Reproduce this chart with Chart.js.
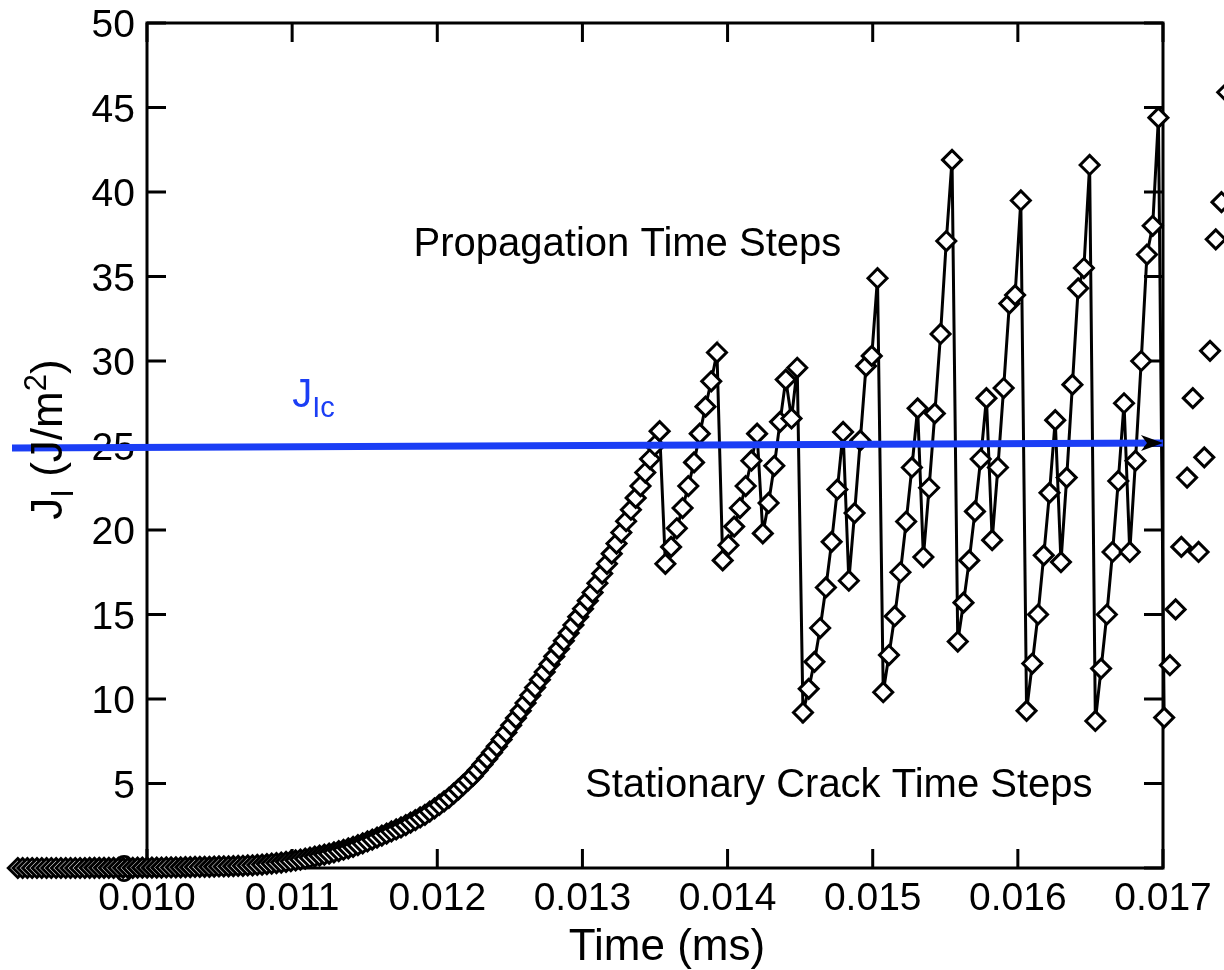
<!DOCTYPE html>
<html>
<head>
<meta charset="utf-8">
<script src="https://cdn.jsdelivr.net/npm/chart.js@4.4.1/dist/chart.umd.min.js"></script>
<style>
  html, body { margin: 0; padding: 0; background: #fff; }
  #wrap { width: 1224px; height: 970px; }
</style>
</head>
<body>
<div id="wrap"><canvas id="jChart" width="1224" height="970"></canvas></div>
<script>
// tick labels
const xTicks = [0.010, 0.011, 0.012, 0.013, 0.014, 0.015, 0.016, 0.017];
const yTicks = [0, 5, 10, 15, 20, 25, 30, 35, 40, 45, 50];

// stationary crack time steps (ms, J/m^2)
const stationaryTime = [
  0.009110, 0.009143, 0.009176, 0.009209, 0.009242, 0.009275, 0.009308, 0.009341, 0.009374, 0.009407,
  0.009440, 0.009473, 0.009506, 0.009539, 0.009572, 0.009605, 0.009638, 0.009671, 0.009704, 0.009737,
  0.009770, 0.009803, 0.009836, 0.009869, 0.009902, 0.009935, 0.009968, 0.010001, 0.010034, 0.010067,
  0.010100, 0.010133, 0.010166, 0.010199, 0.010232, 0.010265, 0.010298, 0.010331, 0.010364, 0.010397,
  0.010430, 0.010463, 0.010496, 0.010529, 0.010562, 0.010595, 0.010628, 0.010661, 0.010694, 0.010727,
  0.010760, 0.010793, 0.010826, 0.010859, 0.010892, 0.010925, 0.010958, 0.010991, 0.011024, 0.011057,
  0.011090, 0.011123, 0.011156, 0.011189, 0.011222, 0.011255, 0.011288, 0.011321, 0.011354, 0.011387,
  0.011420, 0.011453, 0.011486, 0.011519, 0.011552, 0.011585, 0.011618, 0.011651, 0.011684, 0.011717,
  0.011750, 0.011783, 0.011816, 0.011849, 0.011882, 0.011915, 0.011948, 0.011981, 0.012014, 0.012047,
  0.012080, 0.012113, 0.012146, 0.012179, 0.012212, 0.012245, 0.012278, 0.012311, 0.012344, 0.012377,
  0.012410, 0.012443, 0.012476, 0.012509, 0.012542, 0.012575, 0.012608, 0.012641, 0.012674, 0.012707,
  0.012740, 0.012773, 0.012806, 0.012839, 0.012872, 0.012905, 0.012938, 0.012971, 0.013004, 0.013037,
  0.013070, 0.013103, 0.013136, 0.013169, 0.013202, 0.013235, 0.013268, 0.013301, 0.013334, 0.013367,
  0.013400, 0.013433, 0.013466, 0.013499, 0.013532
];
const stationaryJ = [
  0, 0, 0, 0, 0, 0, 0, 0, 0, 0,
  0, 0, 0, 0, 0, 0.01, 0.01, 0.01, 0.01, 0.01,
  0.01, 0.01, 0.01, 0.01, 0.01, 0.02, 0.02, 0.02, 0.02, 0.02,
  0.02, 0.03, 0.03, 0.04, 0.04, 0.05, 0.05, 0.06, 0.06, 0.07,
  0.07, 0.08, 0.09, 0.09, 0.10, 0.11, 0.12, 0.13, 0.15, 0.16,
  0.18, 0.20, 0.23, 0.26, 0.29, 0.32, 0.36, 0.40, 0.45, 0.50,
  0.55, 0.61, 0.67, 0.73, 0.79, 0.85, 0.93, 1.00, 1.08, 1.16,
  1.25, 1.35, 1.46, 1.57, 1.68, 1.80, 1.92, 2.04, 2.16, 2.28,
  2.40, 2.54, 2.69, 2.84, 2.99, 3.15, 3.34, 3.53, 3.73, 3.94,
  4.15, 4.40, 4.65, 4.92, 5.18, 5.45, 5.78, 6.12, 6.47, 6.83,
  7.20, 7.60, 8.02, 8.44, 8.87, 9.30, 9.76, 10.22, 10.68, 11.14,
  11.60, 12.06, 12.52, 12.98, 13.44, 13.90, 14.38, 14.86, 15.34, 15.82,
  16.30, 16.85, 17.42, 18.00, 18.60, 19.20, 19.85, 20.52, 21.20, 21.90,
  22.60, 23.40, 24.20, 25.00, 25.85
];

// propagation time steps
const propagationTime = [
  0.0135715, 0.0136110, 0.0136505, 0.0136900, 0.0137295, 0.0137690, 0.0138085, 0.0138480, 0.0138875, 0.0139270,
  0.0139665, 0.0140060, 0.0140455, 0.0140850, 0.0141245, 0.0141640, 0.0142035, 0.0142430, 0.0142825, 0.0143220,
  0.0143615, 0.0144010, 0.0144405, 0.0144800, 0.0145195, 0.0145590, 0.0145985, 0.0146380, 0.0146775, 0.0147170,
  0.0147565, 0.0147960, 0.0148355, 0.0148750, 0.0149145, 0.0149540, 0.0149935, 0.0150330, 0.0150725, 0.0151120,
  0.0151515, 0.0151910, 0.0152305, 0.0152700, 0.0153095, 0.0153490, 0.0153885, 0.0154280, 0.0154675, 0.0155070,
  0.0155465, 0.0155860, 0.0156255, 0.0156650, 0.0157045, 0.0157440, 0.0157835, 0.0158230, 0.0158625, 0.0159020,
  0.0159415, 0.0159810, 0.0160205, 0.0160600, 0.0160995, 0.0161390, 0.0161785, 0.0162180, 0.0162575, 0.0162970,
  0.0163365, 0.0163760, 0.0164155, 0.0164550, 0.0164945, 0.0165340, 0.0165735, 0.0166130, 0.0166525, 0.0166920,
  0.0167315, 0.0167710, 0.0168105, 0.0168500, 0.0168895, 0.0169290, 0.0169685, 0.0170080
];
const propagationJ = [
  18.0, 19.0, 20.1, 21.3, 22.6, 24.0, 25.7, 27.3, 28.8, 30.5,
  18.2, 19.1, 20.2, 21.3, 22.6, 24.1, 25.7,
  19.8, 21.6, 23.8, 26.4, 28.9, 26.6, 29.6,
  9.2, 10.6, 12.2, 14.2, 16.6, 19.3, 22.4, 25.8,
  17.0, 21.0, 25.3, 29.7, 30.3, 34.9,
  10.4, 12.6, 14.9, 17.5, 20.5, 23.7, 27.2,
  18.4, 22.5, 26.9, 31.6, 37.1, 41.9,
  13.4, 15.7, 18.2, 21.1, 24.2, 27.8,
  19.4, 23.7, 28.4, 33.4, 33.9, 39.5,
  9.3, 12.1, 15.0, 18.5, 22.2, 26.5,
  18.1, 23.1, 28.6, 34.3, 35.5, 41.6,
  8.7, 11.8, 15.0, 18.7, 22.9, 27.5,
  18.7, 24.1, 30.0, 36.3, 38.0, 44.4,
  8.9
];

// steps past the right frame (markers only)
const outerTime = [0.0170475, 0.0170870, 0.0171265, 0.0171660, 0.0172055, 0.0172450, 0.0172845, 0.0173240, 0.0173635, 0.0174030, 0.0174425];
const outerJ = [12.0, 15.3, 19.0, 23.1, 27.8, 18.7, 24.3, 30.6, 37.2, 39.4, 45.9];

// critical value J_Ic arrow
const jIcTime = [0.00907, 0.01700];
const jIcValue = [24.85, 25.15];

// visible time window of the canvas
const xMin = 0.0089872;
const xMax = 0.0174203;

const FONT = "'Liberation Sans', Arial, Helvetica, sans-serif";
const BLUE = '#1b3ef5';

const toXY = (ts, vs) => ts.map((t, i) => ({ x: t, y: vs[i] }));
const lineData = toXY(stationaryTime.concat(propagationTime), stationaryJ.concat(propagationJ));
const markerData = toXY(stationaryTime.concat(propagationTime, outerTime), stationaryJ.concat(propagationJ, outerJ));

function richText(ctx, parts, x, y, align) {
  let total = 0;
  parts.forEach(p => { ctx.font = p.size + 'px ' + FONT; p.w = ctx.measureText(p.text).width; total += p.w; });
  let cx = align === 'center' ? x - total / 2 : x;
  parts.forEach(p => {
    ctx.font = p.size + 'px ' + FONT;
    ctx.textAlign = 'left';
    ctx.fillText(p.text, cx, y + (p.dy || 0));
    cx += p.w;
  });
}

const frame = {
  id: 'frame',
  beforeDatasetsDraw(chart) {
    const ctx = chart.ctx;
    const xs = chart.scales.x, ys = chart.scales.y;
    const L = xs.getPixelForValue(xTicks[0]);
    const R = xs.getPixelForValue(xTicks[xTicks.length - 1]);
    const T = ys.getPixelForValue(yTicks[yTicks.length - 1]);
    const B = ys.getPixelForValue(yTicks[0]);
    ctx.save();
    ctx.strokeStyle = '#000';
    ctx.fillStyle = '#000';
    ctx.lineWidth = 3;
    ctx.strokeRect(L, T, R - L, B - T);
    const tl = 19;
    ctx.beginPath();
    xTicks.forEach(v => {
      const px = xs.getPixelForValue(v);
      ctx.moveTo(px, B); ctx.lineTo(px, B - tl);
      ctx.moveTo(px, T); ctx.lineTo(px, T + tl);
    });
    yTicks.forEach(v => {
      const py = ys.getPixelForValue(v);
      ctx.moveTo(L, py); ctx.lineTo(L + tl, py);
      ctx.moveTo(R, py); ctx.lineTo(R - tl, py);
    });
    ctx.stroke();

    ctx.font = '39px ' + FONT;
    ctx.textBaseline = 'alphabetic';
    ctx.textAlign = 'center';
    xTicks.forEach(v => ctx.fillText(v.toFixed(3), xs.getPixelForValue(v), B + 42));
    ctx.textAlign = 'right';
    yTicks.forEach(v => ctx.fillText(String(v), L - 12, ys.getPixelForValue(v) + 14));

    // x axis title
    ctx.textAlign = 'center';
    ctx.font = '44px ' + FONT;
    ctx.fillText('Time (ms)', (L + R) / 2 + 12, B + 92);

    // annotations
    ctx.font = '40px ' + FONT;
    ctx.fillText('Propagation Time Steps', xs.getPixelForValue(0.01331), ys.getPixelForValue(36.2));
    ctx.fillText('Stationary Crack Time Steps', xs.getPixelForValue(0.014766), ys.getPixelForValue(4.2));
    ctx.fillStyle = BLUE;
    richText(ctx, [
      { text: 'J', size: 40 },
      { text: 'Ic', size: 29, dy: 10 }
    ], xs.getPixelForValue(0.01100), ys.getPixelForValue(27.3), 'left');
    ctx.restore();
  },
  afterDatasetsDraw(chart) {
    const ctx = chart.ctx;
    const xs = chart.scales.x, ys = chart.scales.y;
    const T = ys.getPixelForValue(yTicks[yTicks.length - 1]);
    const B = ys.getPixelForValue(yTicks[0]);

    // y axis title, above the J_Ic line
    ctx.save();
    ctx.fillStyle = '#000';
    ctx.textBaseline = 'alphabetic';
    ctx.translate(62, (T + B) / 2 - 6);
    ctx.rotate(-Math.PI / 2);
    richText(ctx, [
      { text: 'J', size: 44 },
      { text: 'I', size: 31, dy: 11 },
      { text: ' (J/m', size: 44 },
      { text: '2', size: 31, dy: -16 },
      { text: ')', size: 44 }
    ], 0, 0, 'center');
    ctx.restore();

    // arrow head on J_Ic
    const x1 = xs.getPixelForValue(jIcTime[1]), y1 = ys.getPixelForValue(jIcValue[1]);
    const x0 = xs.getPixelForValue(jIcTime[0]), y0 = ys.getPixelForValue(jIcValue[0]);
    const a = Math.atan2(y1 - y0, x1 - x0);
    ctx.save();
    ctx.translate(x1, y1);
    ctx.rotate(a);
    ctx.fillStyle = '#000';
    ctx.beginPath();
    ctx.moveTo(0, 0);
    ctx.lineTo(-22, -8);
    ctx.lineTo(-16, 0);
    ctx.lineTo(-22, 8);
    ctx.closePath();
    ctx.fill();
    ctx.restore();
  }
};

new Chart(document.getElementById('jChart'), {
  type: 'line',
  data: {
    datasets: [
      {
        label: 'J_Ic',
        data: toXY(jIcTime, jIcValue),
        borderColor: BLUE,
        borderWidth: 7,
        pointRadius: 0,
        clip: false
      },
      {
        label: 'J_I markers',
        data: markerData,
        showLine: false,
        pointStyle: 'rectRot',
        pointRadius: 9.5,
        pointBorderWidth: 3,
        pointBackgroundColor: '#fff',
        pointBorderColor: '#000',
        clip: false
      },
      {
        label: 'J_I',
        data: lineData,
        borderColor: '#000',
        borderWidth: 3,
        pointRadius: 0,
        tension: 0
      }
    ]
  },
  options: {
    responsive: false,
    animation: false,
    devicePixelRatio: 1,
    events: [],
    layout: { autoPadding: false, padding: { left: 0, right: 0, top: 23, bottom: 102 } },
    plugins: {
      legend: { display: false },
      tooltip: { enabled: false }
    },
    scales: {
      x: { type: 'linear', min: xMin, max: xMax, display: false },
      y: { type: 'linear', min: 0, max: 50, display: false }
    }
  },
  plugins: [frame]
});
</script>
</body>
</html>
